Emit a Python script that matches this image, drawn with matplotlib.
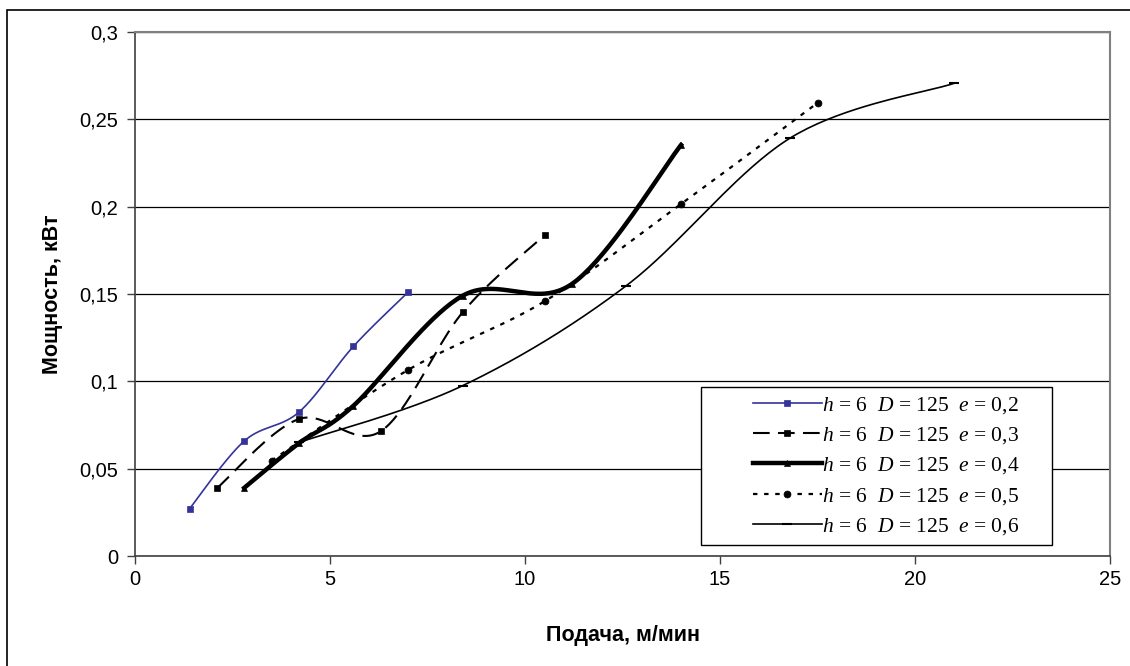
import numpy as np
import matplotlib
matplotlib.use('Agg')
from matplotlib import pyplot as plt
from matplotlib.patches import Rectangle
from matplotlib.ticker import FuncFormatter, MultipleLocator

# e = 0,2 ... 0,6  (h = 6, D = 125)
x_e02 = [1.4, 2.8, 4.2, 5.6, 7.0]
y_e02 = [0.0271, 0.0658, 0.0823, 0.120, 0.151]
x_e03 = [2.1, 4.2, 6.3, 8.4, 10.5]
y_e03 = [0.0388, 0.0784, 0.0714, 0.1395, 0.1836]
x_e04 = [2.8, 4.2, 5.6, 8.4, 11.2, 14.0]
y_e04 = [0.039, 0.0645, 0.086, 0.149, 0.1557, 0.2353]
x_e05 = [3.5, 7.0, 10.5, 14.0, 17.5]
y_e05 = [0.0546, 0.1065, 0.1458, 0.2015, 0.2594]
x_e06 = [4.2, 8.4, 12.6, 16.8, 21.0]
y_e06 = [0.065, 0.0975, 0.1548, 0.2393, 0.2706]
labels = ['0,2', '0,3', '0,4', '0,5', '0,6']


def smooth(xs, ys, n=40):
  # Catmull-Rom spline through the points, like Excel's smoothed line
  p = np.column_stack([xs, ys]).astype(float)
  p = np.vstack([p[0], p, p[-1]])
  out = []
  for i in range(1, len(p) - 2):
    p0, p1, p2, p3 = p[i - 1], p[i], p[i + 1], p[i + 2]
    m1 = (p2 - p0) / 2
    m2 = (p3 - p1) / 2
    t = np.linspace(0, 1, n)[:, None]
    h00 = 2*t**3 - 3*t**2 + 1
    h10 = t**3 - 2*t**2 + t
    h01 = -2*t**3 + 3*t**2
    h11 = t**3 - t**2
    out.append(h00*p1 + h10*m1 + h01*p2 + h11*m2)
  c = np.vstack(out)
  return c[:, 0], c[:, 1]


plt.rcParams['font.family'] = ['Liberation Sans', 'DejaVu Sans']
plt.rcParams['mathtext.fontset'] = 'custom'
plt.rcParams['mathtext.it'] = 'Liberation Serif:italic'
plt.rcParams['mathtext.rm'] = 'Liberation Serif'

fig = plt.figure(figsize=(11.3, 6.66), dpi=100)
ax = fig.add_axes([135/1130, 1 - 556/666, 975/1130, 524/666])

styles = [
  dict(color='#333399', lw=1.2, ls='-', marker='s', ms=5),
  dict(color='black', lw=1.5, ls=(0, (8, 4)), marker='s', ms=5),
  dict(color='black', lw=3.2, ls='-', marker='^', ms=5),
  dict(color='black', lw=1.6, ls=(0, (2, 3)), marker='o', ms=5),
  dict(color='black', lw=1.2, ls='-', marker='_', ms=7),
]
series = [(x_e02, y_e02), (x_e03, y_e03), (x_e04, y_e04), (x_e05, y_e05), (x_e06, y_e06)]

handles = []
for (xs, ys), st, lab in zip(series, styles, labels):
  sx, sy = smooth(xs, ys)
  mew = 1.5 if st['marker'] == '_' else 0.5
  ax.plot(sx, sy, color=st['color'], lw=st['lw'], ls=st['ls'], zorder=3)
  ax.plot(xs, ys, ls='none', marker=st['marker'], ms=st['ms'], color=st['color'],
          mew=mew, zorder=4)
  h, = ax.plot([], [], color=st['color'], lw=st['lw'], ls=st['ls'],
               marker=st['marker'], ms=st['ms'], mew=mew)
  h.set_label(r'$h$ = 6  $D$ = 125  $e$ = ' + lab)
  handles.append(h)

ax.set_xlim(0, 25)
ax.set_ylim(0, 0.3)
ax.xaxis.set_major_locator(MultipleLocator(5))
ax.yaxis.set_major_locator(MultipleLocator(0.05))
ax.yaxis.set_major_formatter(FuncFormatter(lambda v, p: ('%g' % round(v, 2)).replace('.', ',')))
ax.grid(axis='y', color='black', lw=0.9)
ax.set_axisbelow(True)
for s in ['top', 'right']:
  ax.spines[s].set_color('#808080')
  ax.spines[s].set_linewidth(1.5)
for s in ['left', 'bottom']:
  ax.spines[s].set_color('#404040')
  ax.spines[s].set_linewidth(1.2)
ax.tick_params(direction='out', length=6, width=1, color='#404040', labelsize=14.5)
ax.tick_params(axis='x', pad=4)
ax.tick_params(axis='y', pad=6)
ax.set_xlabel('Подача, м/мин', fontsize=15.5, fontweight='bold', labelpad=26)
ax.set_ylabel('Мощность, кВт', fontsize=15.5, fontweight='bold', labelpad=12)

# legend frame drawn separately to match the box position
ax.add_patch(Rectangle((701/1130, 1 - 545/666), 351/1130, 158/666,
                       transform=fig.transFigure, facecolor='white',
                       edgecolor='black', lw=1, zorder=5, clip_on=False))
leg = ax.legend(handles=handles, loc='center right', bbox_to_anchor=(1030/1130, 1 - 466/666),
                bbox_transform=fig.transFigure, frameon=False, handlelength=3.2,
                handletextpad=0.0, labelspacing=0.43, borderpad=0,
                prop={'family': 'Liberation Serif', 'size': 15.5})
leg.set_zorder(6)

# outer chart border
fig.patches.append(Rectangle((7/1130, -0.05), 1.1, 1 - 10/666 + 0.05, transform=fig.transFigure,
                             fill=False, edgecolor='black', lw=1.2))

fig.savefig('out.png', dpi=100)
